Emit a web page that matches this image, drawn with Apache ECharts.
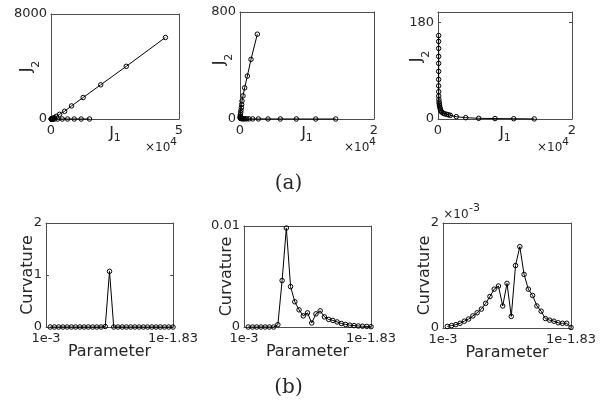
<!DOCTYPE html>
<html><head><meta charset="utf-8">
<script src="https://cdn.jsdelivr.net/npm/echarts@6/dist/echarts.min.js"></script>
<style>html,body{margin:0;padding:0;background:#fff}#c{width:611px;height:405px}</style>
</head><body><div id="c"></div>
<script>
// ---------------- data ----------------
// (a) L-curves: J1 vs J2, 30 parameter values each
const lc1J1 = [44689,29404,19430,12565,8031,5311,3368,2073,1295,830,540,350,230,150,110,130,160,200,260,340,450,600,777,1425,2591,4404,6477,9067,11788,15026];
const lc1J2 = [6211,4013,2607,1636,997,588,358,204,102,60,35,20,10,5,2,1,1,1,1,0.5,0.5,0.5,0.3,0.2,0.1,0.1,0,0,0,0];
const lc2J1 = [2587,1642,1095,697,448,299,249,199,149,100,60,40,30,30,50,100,180,280,398,548,746,995,1343,1891,2736,4179,6020,8408,11294,14279];
const lc2J2 = [634,446,321,233,173,135,108,85,65,48,33,22,14,9,6,4.5,3.5,2.8,2.2,1.8,1.4,1.1,0.9,0.7,0.5,0.35,0.25,0.15,0.1,0.05];
const lc3J1 = [100,100,100,100,100,100,100,100,105,110,130,160,190,225,265,320,390,480,600,780,1000,1298,1550,1836,2731,4134,6075,8508,11299,14364];
const lc3J2 = [156,145,132,117,104,89,74,62,51,43,36.6,32,28.6,25.5,22.5,19.5,16.5,14,12.5,10.8,9.6,8.8,7.8,6.9,4.3,2.4,1.3,0.8,0.5,0.2];
// (b) curvature vs parameter index
const paramIndex = [1,2,3,4,5,6,7,8,9,10,11,12,13,14,15,16,17,18,19,20,21,22,23,24,25,26,27,28,29,30];
const curv1 = [0,0,0,0,0,0,0,0,0,0,0,0,0,0.01,1.07,0,0,0,0,0,0,0,0,0,0,0,0,0,0,0];
const curv2 = [0,0,0,0,0,0,0,0.00023,0.0046,0.0098,0.0040,0.0025,0.0017,0.0011,0.0014,0.0004,0.0013,0.0016,0.0010,0.00075,0.00065,0.0005,0.00035,0.00025,0.00018,0.00014,0.0001,0.00008,0.00006,0.00003];
const curv3 = [0.00003,0.000045,0.000064,0.00009,0.00013,0.00017,0.00023,0.00029,0.00036,0.00047,0.0006,0.00074,0.0008,0.00042,0.00085,0.00022,0.00119,0.00155,0.00102,0.00074,0.00062,0.00042,0.00032,0.00018,0.00015,0.00013,0.0001,0.00009,0.00009,0.00001];
// tick values and labels
const lcXTicks = [[0,50000],[0,20000],[0,20000]];
const lcXLabels = [['0','5'],['0','2'],['0','2']];
const lcYTicks = [[0,8000],[0,800],[0,180]];
const lcYLabels = [['0','8000'],['0','800'],['0','180']];
const lcYMax = [8000,800,200];
const lcXMax = [50000,20000,20000];
const paramTicks = [0,30];
const paramLabels = ['1e-3','1e-1.83'];
const cvYTicks = [[0,1,2],[0,0.01],[0,0.002]];
const cvYLabels = [['0','1','2'],['0','0.01'],['0','2']];
const cvYMax = [2,0.01,0.002];

// ---------------- layout ----------------
const grids = [
  {left:51, top:14, width:128, height:105},
  {left:240, top:12, width:134, height:107},
  {left:438, top:12, width:134, height:107},
  {left:46, top:223, width:127, height:104},
  {left:244, top:226, width:127, height:101},
  {left:443, top:223, width:128, height:105}
];
const FONT = 'DejaVu Sans';
const TXT = '#262626';
const AX = '#4d4d4d';
const richX = {
  j:{fontFamily:FONT, fontSize:16, lineHeight:16, color:TXT, verticalAlign:'top'},
  s:{fontFamily:FONT, fontSize:11, lineHeight:18, color:TXT, verticalAlign:'bottom', padding:[7,0,0,0]}
};
const richY = {
  j:{fontFamily:FONT, fontSize:16, lineHeight:16, color:TXT, verticalAlign:'top'},
  s:{fontFamily:FONT, fontSize:11, lineHeight:23, color:TXT, verticalAlign:'bottom', padding:[12,0,0,0]}
};
const xAxes = [], yAxes = [], series = [];
function addPanel(gi, ys, x) {
  const axLine = {show:true, onZero:false, lineStyle:{color:AX, width:1}};
  const tick = (vals)=>({show:true, inside:true, length:3, customValues:vals, lineStyle:{color:AX}});
  const lbl = (vals, labels, margin)=>({show:true, customValues:vals, margin:margin, color:TXT, fontFamily:FONT, fontSize:13,
      hideOverlap:false, formatter:(v)=>{const i=vals.indexOf(v); return i>=0?labels[i]:'';}});
  xAxes.push({type:'value', gridIndex:gi, position:'bottom', min:0, max:x.max, axisLine:axLine, axisTick:tick(x.ticks),
    axisLabel:lbl(x.ticks, x.labels, 5), splitLine:{show:false},
    name:x.name, nameLocation:'middle', nameGap:x.nameGap, nameMoveOverlap:false,
    nameTextStyle:{fontFamily:FONT, fontSize:16, color:TXT, rich:richX}});
  xAxes.push({type:'value', gridIndex:gi, position:'top', min:0, max:x.max, axisLine:axLine, axisTick:tick(x.ticks),
    axisLabel:{show:false}, splitLine:{show:false}});
  yAxes.push({type:'value', gridIndex:gi, position:'left', min:0, max:ys.max, axisLine:axLine, axisTick:tick(ys.ticks),
    axisLabel:lbl(ys.ticks, ys.labels, 4), splitLine:{show:false},
    name:ys.name, nameLocation:'middle', nameGap:ys.nameGap, nameMoveOverlap:false,
    nameTextStyle:{fontFamily:FONT, fontSize:16, color:TXT, rich:richY, padding:ys.pad||0}});
  yAxes.push({type:'value', gridIndex:gi, position:'right', min:0, max:ys.max, axisLine:axLine, axisTick:tick(ys.ticks),
    axisLabel:{show:false}, splitLine:{show:false}});
}
function addLine(gi, xv, yv) {
  series.push({type:'line', xAxisIndex:2*gi, yAxisIndex:2*gi, data:xv.map((v,i)=>[v, yv[i]]),
    symbol:'circle', symbolSize:4.5, showSymbol:true, clip:false, silent:true,
    lineStyle:{color:'#000', width:1}, itemStyle:{color:'rgba(255,255,255,0)', borderColor:'#000', borderWidth:1}});
}
const yPads = [0, [0,0,0,12], [0,0,0,18]];
const yGaps = [9, 5, 6.5];
const lcData = [[lc1J1, lc1J2],[lc2J1, lc2J2],[lc3J1, lc3J2]];
for (let i=0;i<3;i++) {
  addPanel(i,
    {max:lcYMax[i], ticks:lcYTicks[i], labels:lcYLabels[i], name:'{j|J}{s|2}', nameGap:yGaps[i], pad:yPads[i]},
    {max:lcXMax[i], ticks:lcXTicks[i], labels:lcXLabels[i], name:'{j|J}{s|1}', nameGap:7});
  addLine(i, lcData[i][0], lcData[i][1]);
}
const cvData = [curv1, curv2, curv3];
const cvGaps = [10, 9, 10];
for (let i=0;i<3;i++) {
  addPanel(3+i,
    {max:cvYMax[i], ticks:cvYTicks[i], labels:cvYLabels[i], name:'Curvature', nameGap:cvGaps[i]},
    {max:30, ticks:paramTicks, labels:paramLabels, name:'Parameter', nameGap:17});
  addLine(3+i, paramIndex, cvData[i]);
}
function txt(x, y, s, size, family, align) {
  return {type:'text', x:x, y:y, silent:true, style:{text:s, x:0, y:0, fill:TXT, font:size+'px "'+(family||FONT)+'"',
    fontSize:size, fontFamily:family||FONT, align:align||'left', textAlign:align||'left', verticalAlign:'top', textVerticalAlign:'top'}};
}
const graphics = [
  txt(145, 141.5, '×10', 12), txt(170, 137, '4', 11),
  txt(344, 141.5, '×10', 12), txt(369, 137, '4', 11),
  txt(537, 141.5, '×10', 12), txt(562, 137, '4', 11),
  txt(443.3, 208.5, '×10', 12), txt(469, 202.5, '-3', 11),
  txt(288.5, 174, '(a)', 20, 'DejaVu Serif', 'center'),
  txt(288.5, 378, '(b)', 20, 'DejaVu Serif', 'center')
];
const chart = echarts.init(document.getElementById('c'), null, {renderer:'canvas'});
chart.setOption({
  animation:false, backgroundColor:'#fff',
  grid: grids.map(g=>Object.assign({containLabel:false}, g)),
  xAxis: xAxes, yAxis: yAxes, series: series, graphic: graphics
});
</script></body></html>
